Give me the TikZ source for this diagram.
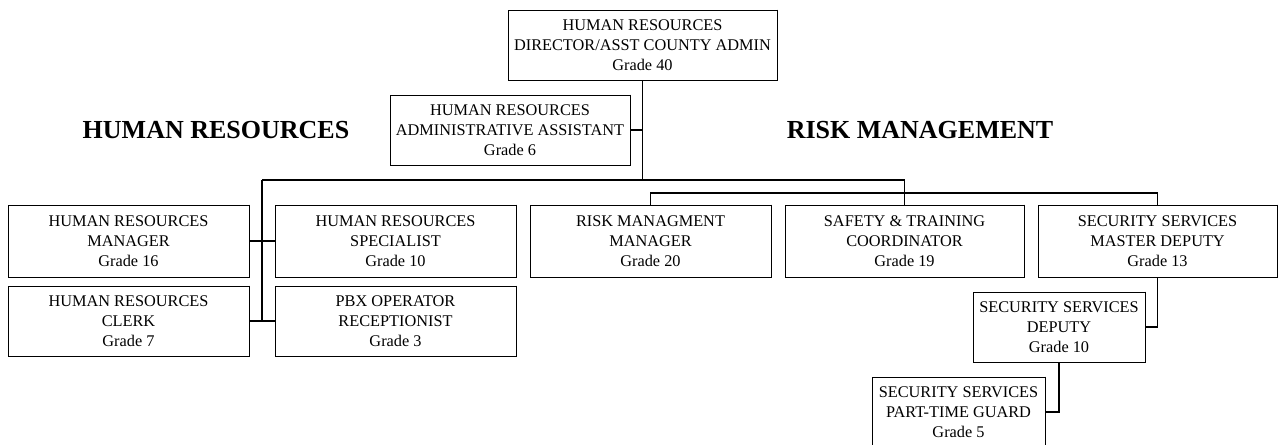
\documentclass[tikz,border=0pt]{standalone}
\usepackage{fontspec}
\setmainfont{Liberation Serif}
\begin{document}
\begin{tikzpicture}[x=1pt,y=-1pt,
  box/.style={draw, line width=0.9pt, align=center, inner sep=0pt,
    font=\fontsize{16.3}{20}\selectfont, minimum height=70pt},
  link/.style={line width=1.2pt},
  heading/.style={font=\fontsize{26}{30}\selectfont\bfseries}]
\fill[white] (0,0) rectangle (1281,444);
\useasboundingbox (0,0) rectangle (1281,444);

% top of the chart
\node[box, minimum width=269pt] (dir) at (642.5,45)
  {HUMAN RESOURCES\\DIRECTOR/ASST COUNTY ADMIN\\Grade 40};
\node[box, minimum width=240pt] (admin) at (510,130)
  {HUMAN RESOURCES\\ADMINISTRATIVE ASSISTANT\\Grade 6};

% section headings
\node[heading] (hrhead) at (216,130) {HUMAN RESOURCES};
\node[heading] (rmhead) at (920,130) {RISK MANAGEMENT};

% first row
\node[box, minimum width=241pt, minimum height=72pt] (mgr) at (128.5,241)
  {HUMAN RESOURCES\\MANAGER\\Grade 16};
\node[box, minimum width=241pt, minimum height=72pt] (spec) at (395.5,241)
  {HUMAN RESOURCES\\SPECIALIST\\Grade 10};
\node[box, minimum width=241pt, minimum height=72pt] (risk) at (650.5,241)
  {RISK MANAGMENT\\MANAGER\\Grade 20};
\node[box, minimum width=239pt, minimum height=72pt] (safety) at (904.5,241)
  {SAFETY \& TRAINING\\COORDINATOR\\Grade 19};
\node[box, minimum width=239pt, minimum height=72pt] (secmd) at (1157.5,241)
  {SECURITY SERVICES\\MASTER DEPUTY\\Grade 13};

% second row
\node[box, minimum width=241pt] (clerk) at (128.5,321)
  {HUMAN RESOURCES\\CLERK\\Grade 7};
\node[box, minimum width=241pt] (pbx) at (395.5,321)
  {PBX OPERATOR\\RECEPTIONIST\\Grade 3};

% security chain
\node[box, minimum width=172pt] (deputy) at (1059,327)
  {SECURITY SERVICES\\DEPUTY\\Grade 10};
\node[box, minimum width=173pt] (guard) at (958.5,412)
  {SECURITY SERVICES\\PART-TIME GUARD\\Grade 5};

% heavier bottom and right edges of the boxes
\foreach \n in {dir,admin,mgr,spec,risk,safety,secmd,clerk,pbx,deputy,guard}
  \draw[line width=1.8pt] (\n.north east) -- (\n.south east) -- (\n.south west);

% connectors
\coordinate (hub) at (642.5,180);
\coordinate (hrtop) at (262,180);
\coordinate (rmbar) at (0,193);

\draw[link] (dir.south) -- (hub);
\draw[link] (admin.east) -- (admin.east -| hub);
\draw[link] (hrtop) -- (hub) -- (hub -| safety.north) -- (safety.north);
\draw[link] (hrtop) -- (hrtop |- clerk.east);
\draw[link] (mgr.east) -- (spec.west);
\draw[link] (clerk.east) -- (pbx.west);
\draw[link] (risk.north) -- (risk.north |- rmbar) -- (secmd.north |- rmbar) -- (secmd.north);
\draw[link] (secmd.south) |- (deputy.east);
\draw[link] (deputy.south) |- (guard.east);
\end{tikzpicture}
\end{document}
